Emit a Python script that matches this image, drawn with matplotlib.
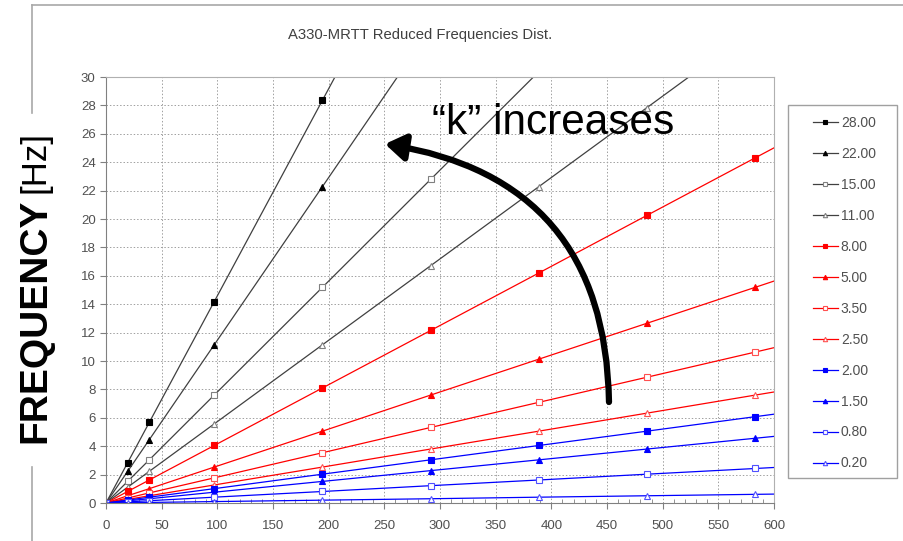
import matplotlib
matplotlib.use("Agg")
import matplotlib.pyplot as plt
from matplotlib.patches import FancyArrowPatch, Rectangle
from matplotlib.lines import Line2D
from matplotlib.ticker import MultipleLocator

# ---- data ----
speed = [0, 19.4, 38.9, 97.2, 194.4, 291.6, 388.8, 486.0, 583.2, 680.4]
labels = ["28.00", "22.00", "15.00", "11.00", "8.00", "5.00",
          "3.50", "2.50", "2.00", "1.50", "0.80", "0.20"]
f_28 = [0, 2.83, 5.68, 14.18, 28.36, 42.54, 56.72, 70.90, 85.08, 99.26]
f_22 = [0, 2.22, 4.46, 11.14, 22.28, 33.42, 44.56, 55.70, 66.85, 77.99]
f_15 = [0, 1.52, 3.04, 7.60, 15.19, 22.79, 30.38, 37.98, 45.58, 53.18]
f_11 = [0, 1.11, 2.23, 5.57, 11.14, 16.71, 22.28, 27.85, 33.42, 39.00]
f_8 = [0, 0.81, 1.62, 4.05, 8.10, 12.15, 16.20, 20.26, 24.31, 28.36]
f_5 = [0, 0.51, 1.01, 2.53, 5.06, 7.60, 10.13, 12.66, 15.19, 17.73]
f_3_5 = [0, 0.35, 0.71, 1.77, 3.54, 5.32, 7.09, 8.86, 10.63, 12.41]
f_2_5 = [0, 0.25, 0.51, 1.27, 2.53, 3.80, 5.06, 6.33, 7.60, 8.86]
f_2 = [0, 0.20, 0.41, 1.01, 2.03, 3.04, 4.05, 5.06, 6.08, 7.09]
f_1_5 = [0, 0.15, 0.30, 0.76, 1.52, 2.28, 3.04, 3.80, 4.56, 5.32]
f_0_8 = [0, 0.08, 0.16, 0.41, 0.81, 1.22, 1.62, 2.03, 2.43, 2.84]
f_0_2 = [0, 0.02, 0.04, 0.10, 0.20, 0.30, 0.41, 0.51, 0.61, 0.71]
series = [f_28, f_22, f_15, f_11, f_8, f_5, f_3_5, f_2_5, f_2, f_1_5, f_0_8, f_0_2]
x_ticks = list(range(0, 601, 50))
y_ticks = list(range(0, 31, 2))

# ---- styles ----
styles = [
    dict(color="#404040", marker="s", mfc="#000000", mec="#000000", ms=5),
    dict(color="#404040", marker="^", mfc="#000000", mec="#000000", ms=4.5),
    dict(color="#404040", marker="s", mfc="white", mec="#808080", ms=4.5),
    dict(color="#404040", marker="^", mfc="white", mec="#808080", ms=4.5),
    dict(color="#ff0000", marker="s", mfc="#ff0000", mec="#ff0000", ms=5),
    dict(color="#ff0000", marker="^", mfc="#ff0000", mec="#ff0000", ms=4.5),
    dict(color="#ff0000", marker="s", mfc="white", mec="#ff5050", ms=4.5),
    dict(color="#ff0000", marker="^", mfc="white", mec="#ff5050", ms=4.5),
    dict(color="#0000ff", marker="s", mfc="#0000ff", mec="#0000ff", ms=5),
    dict(color="#0000ff", marker="^", mfc="#0000ff", mec="#0000ff", ms=4.5),
    dict(color="#0000ff", marker="s", mfc="white", mec="#5050ff", ms=4.5),
    dict(color="#0000ff", marker="^", mfc="white", mec="#5050ff", ms=4.5),
]

W, H = 904, 541
fig = plt.figure(figsize=(W / 100, H / 100), dpi=100)
fig.patch.set_facecolor("white")

def fx(px):
    return px / W

def fy(py):
    return 1 - py / H

ax = fig.add_axes([fx(106), fy(503), 668 / W, 426 / H])

handles = []
for vals, st, lab in zip(series, styles, labels):
    ln, = ax.plot(speed, vals, lw=0.9, mew=0.8, label=lab, **st)
    handles.append(ln)

ax.set_xlim(0, 600)
ax.set_ylim(0, 30)
ax.set_xticks(x_ticks)
ax.set_yticks(y_ticks)
ax.xaxis.set_minor_locator(MultipleLocator(10))
ax.grid(True, which="major", color="#a0a0a0", lw=0.7, ls=(0, (1.5, 2)))
ax.set_axisbelow(True)
ax.tick_params(axis="both", which="major", labelsize=9.5, labelcolor="#505050",
               color="#808080", length=4, direction="out")
ax.tick_params(axis="x", which="major", pad=8)
ax.tick_params(axis="x", which="minor", color="#808080", length=3, direction="in")
for lab in ax.get_xticklabels() + ax.get_yticklabels():
    lab.set_fontfamily("Liberation Sans")
for side in ["left", "bottom"]:
    ax.spines[side].set_color("#808080")
for side in ["top", "right"]:
    ax.spines[side].set_color("#b0b0b0")

# outer chart frame
fig.add_artist(Line2D([fx(32), 1.0], [fy(5), fy(5)], color="#a8a8a8", lw=1.2))
fig.add_artist(Line2D([fx(32), fx(32)], [fy(5), fy(113)], color="#a8a8a8", lw=1.2))
fig.add_artist(Line2D([fx(32), fx(32)], [fy(467), 0.0], color="#a8a8a8", lw=1.2))

# title
fig.text(fx(420), fy(35), "A330-MRTT Reduced Frequencies Dist.", ha="center", va="center",
         fontsize=10.7, color="#404040", family="Liberation Sans")

# legend
fig.add_artist(Rectangle((fx(788), fy(478)), 109 / W, 373 / H, transform=fig.transFigure,
                         fill=False, edgecolor="#a0a0a0", lw=1))
leg = fig.legend(handles=handles, loc="upper left", bbox_to_anchor=(fx(813), fy(116)),
                 frameon=False, borderpad=0, borderaxespad=0, handlelength=1.8,
                 handletextpad=0.2, labelspacing=1.22, markerscale=0.7,
                 prop={"family": "Liberation Sans", "size": 10})
for t in leg.get_texts():
    t.set_color("#505050")

# y label (two fonts)
ylab1 = fig.text(fx(45), fy(443), "FREQUENCY", rotation=90, rotation_mode="anchor",
                 ha="left", va="baseline", fontsize=28, fontweight="bold",
                 family="Liberation Sans", color="black")
r = fig.canvas.get_renderer()
bb = ylab1.get_window_extent(r)
fig.text(fx(45), (bb.y1 + 6) / H, "[Hz]", rotation=90, rotation_mode="anchor",
         ha="left", va="baseline", fontsize=25, family="Liberation Sans", color="black")

# annotation
fig.text(fx(432), fy(134), "\u201ck\u201d increases", ha="left", va="baseline",
         fontsize=30.5, family="Liberation Sans", color="black")
arrow = FancyArrowPatch((fx(609), fy(402)), (fx(385), fy(144)), transform=fig.transFigure,
                        connectionstyle="arc3,rad=0.42",
                        arrowstyle="-|>,head_length=0.6,head_width=0.4",
                        mutation_scale=20, lw=4.5, color="black", shrinkA=0, shrinkB=0)
fig.add_artist(arrow)

fig.savefig("out.png", dpi=100)
